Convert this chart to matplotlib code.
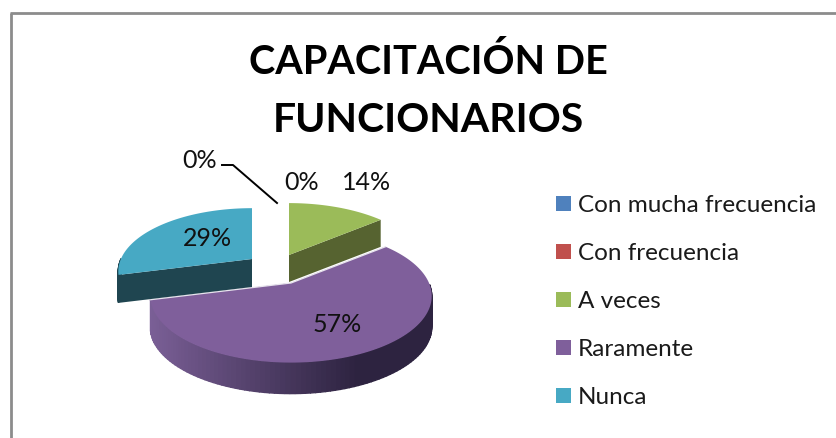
import numpy as np
import matplotlib
matplotlib.use("Agg")
import matplotlib.pyplot as plt
from matplotlib.patches import Patch, Polygon

categorias = ["Con mucha frecuencia", "Con frecuencia", "A veces", "Raramente", "Nunca"]
valores = [0, 0, 14, 57, 29]
colores = ["#4f81bd", "#c0504d", "#9bbb59", "#7f5f9b", "#47a9c4"]
colores_lado = ["#2f4d71", "#73302e", "#566330", "#3a2c4d", "#1f4550"]

# posicion de cada rebanada: vertice, escala y profundidad
apex_x = [290, 290, 289, 291, 252]
apex_y = [255, 255, 255, 283, 259]
escala = [0.97, 0.97, 0.97, 1.0, 0.95]
prof = [27, 27, 27, 31, 28]
RX, RY, K = 138, 64, 0.196

plt.rcParams["font.family"] = ["Lato", "DejaVu Sans"]
fig = plt.figure(figsize=(8.36, 4.38), dpi=100)
ax = fig.add_axes([0, 0, 1, 1])
ax.set_xlim(0, 836)
ax.set_ylim(438, 0)
ax.axis("off")


def rim(i, t):
    # punto del borde, con un poco de perspectiva
    t = np.radians(t)
    u, v = np.sin(t), np.cos(t)
    x = apex_x[i] + escala[i] * RX * u / (1 + K * v)
    y = apex_y[i] - escala[i] * RY * v / (1 + K * v)
    return x, y


def lerp_color(a, b, f):
    a = np.array(matplotlib.colors.to_rgb(a))
    b = np.array(matplotlib.colors.to_rgb(b))
    return a + (b - a) * f


def dibuja_rebanada(i, t0, t1):
    ts = np.linspace(t0, t1, 121)
    xs, ys = rim(i, ts)
    d = prof[i]
    ax_ = apex_x[i]
    ay_ = apex_y[i]
    # caras de corte
    for t in (t0, t1):
        x, y = rim(i, t)
        if t in (0.0, 360.0):
            continue
        ax.add_patch(Polygon([(ax_, ay_), (x, y), (x, y + d), (ax_, ay_ + d)],
                             fc=colores_lado[i], ec="none", zorder=2 + i))
    # borde exterior, solo la parte de delante
    for j in range(len(ts) - 1):
        if 90 <= ts[j] <= 270:
            if categorias[i] == "Raramente":
                f = (xs[j] - xs.min()) / (xs.max() - xs.min())
                c = lerp_color("#7a5f96", "#2d2340", min(1, f * 1.35))
            else:
                c = colores_lado[i]
            ax.add_patch(Polygon([(xs[j], ys[j]), (xs[j + 1], ys[j + 1]),
                                  (xs[j + 1], ys[j + 1] + d), (xs[j], ys[j] + d)],
                                 fc=c, ec=c, lw=1.0, zorder=2 + i))
    # cara de arriba
    pts = [(ax_, ay_)] + list(zip(xs, ys))
    ax.add_patch(Polygon(pts, fc=colores[i], ec="none", zorder=2.5 + i))
    if categorias[i] == "Raramente":
        ax.plot([xs[0], ax_, xs[-1]], [ys[0], ay_, ys[-1]], color="#e8e4ee", lw=0.9, zorder=2.6 + i)


total = sum(valores)
acum = np.cumsum([0] + valores) / total * 360
for i, v in enumerate(valores):
    if v > 0:
        dibuja_rebanada(i, float(acum[i]), float(acum[i + 1]))

# marco
ax.plot([10.5, 10.5], [438, 12.5], color="#8c8c8c", lw=2, solid_capstyle="butt", zorder=1)
ax.plot([10, 836], [12.5, 12.5], color="#8c8c8c", lw=2, solid_capstyle="butt", zorder=1)

ax.text(428, 62, "CAPACITACIÓN DE", ha="center", va="center", fontsize=28.5, fontweight="bold", color="black", zorder=10)
ax.text(428, 120, "FUNCIONARIOS", ha="center", va="center", fontsize=29.5, fontweight="bold", color="black", zorder=10)

# etiquetas
etiq_x = [200, 302, 367, 337, 207]
etiq_y = [160, 182, 182, 325, 238]
for x, y, v in zip(etiq_x, etiq_y, valores):
    ax.text(x, y, f"{v}%", ha="center", va="center", fontsize=18, color="#111111", zorder=10)
ax.plot([222, 233, 277], [165, 165, 203], color="black", lw=1.4, zorder=10)

handles = [Patch(fc=c, ec="none") for c in colores]
ax.legend(handles, categorias, loc="upper left", bbox_to_anchor=(556 / 836, 1 - 195 / 438),
          frameon=False, fontsize=17.5, handlelength=0.6, handleheight=0.6,
          handletextpad=0.3, labelspacing=1.11, borderpad=0, borderaxespad=0,
          labelcolor="#1a1a1a")

fig.savefig("out.png", dpi=100)
